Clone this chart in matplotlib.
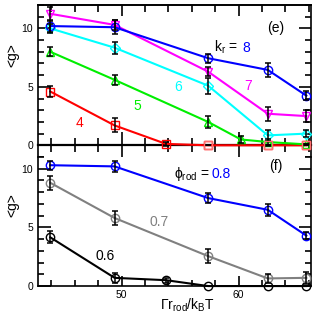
import matplotlib.pyplot as plt
from matplotlib.ticker import MultipleLocator

plt.rcParams['font.family'] = ['Liberation Sans', 'DejaVu Sans']
plt.rcParams['mathtext.fontset'] = 'custom'
plt.rcParams['mathtext.rm'] = 'Liberation Sans'
plt.rcParams['mathtext.it'] = 'Liberation Sans'

# Gamma r_rod / k_B T positions
gam = [43.9, 49.4, 53.8, 57.4, 62.5, 65.8]
gam5 = [43.9, 49.4, 57.4, 62.5, 65.8]
gam_k5 = [43.9, 49.4, 57.4, 60.2, 62.5, 65.8]

# panel (e): <g> for different k_r at phi_rod = 0.8
g_k8 = [10.2, 10.1, 7.45, 6.45, 4.25]
e_k8 = [0.5, 0.6, 0.4, 0.6, 0.4]
g_k7 = [11.25, 10.3, 6.3, 2.7, 2.5]
e_k7 = [0.6, 0.4, 0.4, 0.6, 0.5]
g_k6 = [10.0, 8.35, 5.1, 0.85, 1.0]
e_k6 = [0.4, 0.5, 0.7, 0.5, 0.3]
g_k5 = [8.0, 5.6, 2.0, 0.5, 0.28, 0.08]
e_k5 = [0.4, 0.4, 0.5, 0.3, 0.3, 0.0]
g_k4 = [4.6, 1.7, 0.12, 0.0, 0.0, 0.0]
e_k4 = [0.5, 0.6, 0.15, 0.0, 0.0, 0.0]

# panel (f): <g> for different phi_rod at k_r = 8
g_p8 = [10.3, 10.2, 7.5, 6.5, 4.3]
e_p8 = [0.4, 0.5, 0.4, 0.5, 0.3]
g_p7 = [8.8, 5.8, 2.55, 0.65, 0.7]
e_p7 = [0.6, 0.6, 0.6, 0.4, 0.5]
g_p6 = [4.15, 0.7, 0.5, 0.0, 0.0, 0.0]
e_p6 = [0.5, 0.4, 0.2, 0.0, 0.0, 0.0]

fig = plt.figure(figsize=(3.25, 3.14), dpi=100)
ax1 = fig.add_axes([0.117, 0.5, 0.84, 0.484])
ax2 = fig.add_axes([0.117, 0.089, 0.84, 0.411])


def series(ax, x, y, err, color, marker, ms=6):
    ax.plot(x, y, '-', color=color, lw=1.5, marker=marker, ms=ms,
            mfc='none', mec=color, mew=1.0, clip_on=False, zorder=3)
    ax.errorbar(x, y, yerr=err, fmt='none', ecolor='black', elinewidth=1.1,
                capsize=2.5, capthick=1.1, clip_on=False, zorder=4)


series(ax1, gam, g_k4, e_k4, 'red', 's')
ax1.plot(gam[3:], g_k4[3:], 's', ms=6, mfc='none', mec='#ff7070', mew=1.0,
         clip_on=False, zorder=5)
series(ax1, gam_k5, g_k5, e_k5, '#00ee00', '^')
series(ax1, gam5, g_k6, e_k6, 'cyan', 'D', ms=5)
series(ax1, gam5, g_k7, e_k7, 'magenta', 'v')
series(ax1, gam5, g_k8, e_k8, 'blue', 'o')

series(ax2, gam, g_p6, e_p6, 'black', 'o')
series(ax2, gam5, g_p7, e_p7, 'gray', 'o')
series(ax2, gam5, g_p8, e_p8, 'blue', 'o')

for ax in (ax1, ax2):
    ax.set_xlim(42.85, 66.2)
    ax.xaxis.set_major_locator(MultipleLocator(10))
    ax.xaxis.set_minor_locator(MultipleLocator(2))
    ax.yaxis.set_major_locator(MultipleLocator(5))
    ax.yaxis.set_minor_locator(MultipleLocator(1))
    ax.tick_params(axis='y', which='both', direction='in', left=True,
                   right=True, labelsize=7.5, width=1.2)
    ax.tick_params(axis='y', which='major', length=9)
    ax.tick_params(axis='y', which='minor', length=4.5)
    for s in ax.spines.values():
        s.set_linewidth(1.2)

ax1.set_ylim(-1, 12)
ax1.spines['bottom'].set_position(('data', 0))
ax1.spines['bottom'].set_linewidth(1.6)
ax1.spines['bottom'].set_zorder(2.5)
ax1.tick_params(axis='x', which='both', direction='inout', bottom=True,
                top=False, labelbottom=False, width=1.2)
ax1.tick_params(axis='x', which='major', length=19)
ax1.tick_params(axis='x', which='minor', length=10)
top = ax1.secondary_xaxis('top')
top.xaxis.set_major_locator(MultipleLocator(10))
top.xaxis.set_minor_locator(MultipleLocator(2))
top.tick_params(axis='x', which='both', direction='in', labeltop=False,
                width=1.2)
top.tick_params(axis='x', which='major', length=8)
top.tick_params(axis='x', which='minor', length=5)
top.spines['top'].set_linewidth(1.2)

ax2.set_ylim(0, 11)
ax2.spines['top'].set_visible(False)
ax2.tick_params(axis='x', which='both', direction='in', bottom=True,
                top=False, labelsize=7.5, width=1.2)
ax2.tick_params(axis='x', which='major', length=7, pad=2.5)
ax2.tick_params(axis='x', which='minor', length=4)

ax1.set_ylabel('<g>', fontsize=10)
ax1.yaxis.set_label_coords(-0.07, 0.67)
ax2.set_ylabel('<g>', fontsize=10)
ax2.yaxis.set_label_coords(-0.07, 0.63)
ax2.set_xlabel(r'$\Gamma\mathrm{r_{rod}/k_BT}$', fontsize=10)
ax2.xaxis.set_label_coords(0.546, -0.085)

ax1.text(63.2, 10.0, '(e)', fontsize=10, ha='center', va='center')
ax1.text(57.9, 8.0, r'$\mathrm{k_r}$ = ', fontsize=10, va='baseline')
ax1.text(60.3, 8.0, '8', fontsize=10, color='blue', va='baseline')
ax1.text(60.8, 5.1, '7', fontsize=10, color='magenta', ha='center', va='center')
ax1.text(54.8, 5.0, '6', fontsize=10, color='cyan', ha='center', va='center')
ax1.text(51.3, 3.4, '5', fontsize=10, color='#00ee00', ha='center', va='center')
ax1.text(46.4, 1.9, '4', fontsize=10, color='red', ha='center', va='center')

ax2.text(63.2, 10.2, '(f)', fontsize=10, ha='center', va='center')
ax2.text(54.5, 9.2, r'$\mathrm{\phi_{rod}}$ = ', fontsize=10, va='baseline')
ax2.text(57.7, 9.2, '0.8', fontsize=10, color='blue', va='baseline')
ax2.text(53.2, 5.5, '0.7', fontsize=10, color='gray', ha='center', va='center')
ax2.text(48.6, 2.6, '0.6', fontsize=10, color='black', ha='center', va='center')

fig.savefig('out.png', dpi=100)
